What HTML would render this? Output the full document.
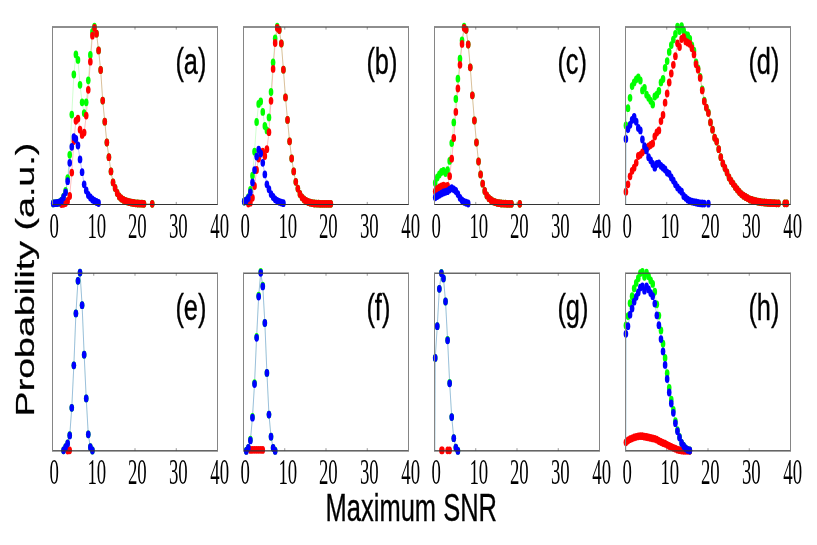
<!DOCTYPE html>
<html><head><meta charset="utf-8"><title>Maximum SNR probability</title>
<style>html,body{margin:0;padding:0;background:#fff;}svg{display:block;will-change:transform;}</style></head>
<body>
<svg width="817" height="545" viewBox="0 0 817 545">
<rect width="817" height="545" fill="#fff"/>
<rect x="93.25" y="27.00" width="1" height="2.6" fill="#9a9a9a"/>
<rect x="93.25" y="201.90" width="1" height="2.6" fill="#9a9a9a"/>
<rect x="134.50" y="27.00" width="1" height="2.6" fill="#9a9a9a"/>
<rect x="134.50" y="201.90" width="1" height="2.6" fill="#9a9a9a"/>
<rect x="175.75" y="27.00" width="1" height="2.6" fill="#9a9a9a"/>
<rect x="175.75" y="201.90" width="1" height="2.6" fill="#9a9a9a"/>
<path d="M53.22 203.40 L55.28 203.20 L57.35 203.00 L59.41 202.50 L61.47 200.60 L63.53 196.60 L65.60 190.90 L67.66 178.10 L69.72 154.80 L71.78 114.60 L73.85 74.50 L75.91 54.40 L77.97 59.90 L80.03 84.80 L82.10 102.30 L84.16 113.10 L86.22 102.30 L88.28 80.30 L90.35 55.00 L92.41 32.00 L94.47 26.70 L96.53 33.70 L98.60 50.40 L100.66 70.00 L102.72 100.60 L104.78 121.70 L106.85 142.50 L108.91 157.20 L110.97 171.40 L113.03 182.40 L115.10 188.00 L117.16 193.00 L119.22 196.50 L121.28 198.50 L123.35 199.80 L125.41 200.80 L127.47 201.60 L129.53 202.20 L131.60 202.70 L133.66 203.00 L135.72 203.30 L137.78 203.50 L139.85 203.60 L141.91 203.70 L143.97 203.80 L152.22 203.80" fill="none" stroke="#00ff00" stroke-width="0.5" stroke-opacity="0.38" stroke-linejoin="round"/>
<path d="M61.47 204.00 L63.53 203.80 L65.60 203.00 L67.66 201.00 L69.72 196.00 L71.78 172.60 L73.85 141.00 L75.91 120.80 L77.97 118.70 L80.03 129.70 L82.10 134.90 L84.16 132.60 L86.22 115.60 L88.28 89.80 L90.35 61.70 L92.41 35.70 L94.47 27.90 L96.53 33.70 L98.60 50.40 L100.66 70.00 L102.72 100.60 L104.78 121.70 L106.85 142.50 L108.91 157.20 L110.97 171.40 L113.03 182.40 L115.10 188.00 L117.16 193.00 L119.22 196.50 L121.28 198.50 L123.35 199.80 L125.41 200.80 L127.47 201.60 L129.53 202.20 L131.60 202.70 L133.66 203.00 L135.72 203.30 L137.78 203.50 L139.85 203.60 L141.91 203.70 L143.97 203.80 L152.22 203.80" fill="none" stroke="#ff0000" stroke-width="0.5" stroke-opacity="0.5" stroke-linejoin="round"/>
<path d="M53.22 203.40 L55.28 203.20 L57.35 203.00 L59.41 202.50 L61.47 201.00 L63.53 197.20 L65.60 192.30 L67.66 181.20 L69.72 162.80 L71.78 146.80 L73.85 137.10 L75.91 139.00 L77.97 145.50 L80.03 159.40 L82.10 172.20 L84.16 184.30 L86.22 190.40 L88.28 195.00 L90.35 197.50 L92.41 199.50 L94.47 201.00 L96.53 202.00 L98.60 203.00" fill="none" stroke="#0000ff" stroke-width="0.5" stroke-opacity="0.5" stroke-linejoin="round"/>
<g fill="#00ff00">
<ellipse cx="53.22" cy="203.40" rx="2.3" ry="3.9"/>
<ellipse cx="55.28" cy="203.20" rx="2.3" ry="3.9"/>
<ellipse cx="57.35" cy="203.00" rx="2.3" ry="3.9"/>
<ellipse cx="59.41" cy="202.50" rx="2.3" ry="3.9"/>
<ellipse cx="61.47" cy="200.60" rx="2.3" ry="3.9"/>
<ellipse cx="63.53" cy="196.60" rx="2.3" ry="3.9"/>
<ellipse cx="65.60" cy="190.90" rx="2.3" ry="3.9"/>
<ellipse cx="67.66" cy="178.10" rx="2.3" ry="3.9"/>
<ellipse cx="69.72" cy="154.80" rx="2.3" ry="3.9"/>
<ellipse cx="71.78" cy="114.60" rx="2.3" ry="3.9"/>
<ellipse cx="73.85" cy="74.50" rx="2.3" ry="3.9"/>
<ellipse cx="75.91" cy="54.40" rx="2.3" ry="3.9"/>
<ellipse cx="77.97" cy="59.90" rx="2.3" ry="3.9"/>
<ellipse cx="80.03" cy="84.80" rx="2.3" ry="3.9"/>
<ellipse cx="82.10" cy="102.30" rx="2.3" ry="3.9"/>
<ellipse cx="84.16" cy="113.10" rx="2.3" ry="3.9"/>
<ellipse cx="86.22" cy="102.30" rx="2.3" ry="3.9"/>
<ellipse cx="88.28" cy="80.30" rx="2.3" ry="3.9"/>
<ellipse cx="90.35" cy="55.00" rx="2.3" ry="3.9"/>
<ellipse cx="92.41" cy="32.00" rx="2.3" ry="3.9"/>
<ellipse cx="94.47" cy="26.70" rx="2.3" ry="3.9"/>
<ellipse cx="96.53" cy="33.70" rx="2.3" ry="3.9"/>
<ellipse cx="98.60" cy="50.40" rx="2.3" ry="3.9"/>
<ellipse cx="100.66" cy="70.00" rx="2.3" ry="3.9"/>
<ellipse cx="102.72" cy="100.60" rx="2.3" ry="3.9"/>
<ellipse cx="104.78" cy="121.70" rx="2.3" ry="3.9"/>
<ellipse cx="106.85" cy="142.50" rx="2.3" ry="3.9"/>
<ellipse cx="108.91" cy="157.20" rx="2.3" ry="3.9"/>
<ellipse cx="110.97" cy="171.40" rx="2.3" ry="3.9"/>
<ellipse cx="113.03" cy="182.40" rx="2.3" ry="3.9"/>
<ellipse cx="115.10" cy="188.00" rx="2.3" ry="3.9"/>
<ellipse cx="117.16" cy="193.00" rx="2.3" ry="3.9"/>
<ellipse cx="119.22" cy="196.50" rx="2.3" ry="3.9"/>
<ellipse cx="121.28" cy="198.50" rx="2.3" ry="3.9"/>
<ellipse cx="123.35" cy="199.80" rx="2.3" ry="3.9"/>
<ellipse cx="125.41" cy="200.80" rx="2.3" ry="3.9"/>
<ellipse cx="127.47" cy="201.60" rx="2.3" ry="3.9"/>
<ellipse cx="129.53" cy="202.20" rx="2.3" ry="3.9"/>
<ellipse cx="131.60" cy="202.70" rx="2.3" ry="3.9"/>
<ellipse cx="133.66" cy="203.00" rx="2.3" ry="3.9"/>
<ellipse cx="135.72" cy="203.30" rx="2.3" ry="3.9"/>
<ellipse cx="137.78" cy="203.50" rx="2.3" ry="3.9"/>
<ellipse cx="139.85" cy="203.60" rx="2.3" ry="3.9"/>
<ellipse cx="141.91" cy="203.70" rx="2.3" ry="3.9"/>
<ellipse cx="143.97" cy="203.80" rx="2.3" ry="3.9"/>
<ellipse cx="152.22" cy="203.80" rx="2.3" ry="3.9"/>
</g>
<g fill="#ff0000">
<ellipse cx="61.47" cy="204.00" rx="2.3" ry="3.9"/>
<ellipse cx="63.53" cy="203.80" rx="2.3" ry="3.9"/>
<ellipse cx="65.60" cy="203.00" rx="2.3" ry="3.9"/>
<ellipse cx="67.66" cy="201.00" rx="2.3" ry="3.9"/>
<ellipse cx="69.72" cy="196.00" rx="2.3" ry="3.9"/>
<ellipse cx="71.78" cy="172.60" rx="2.3" ry="3.9"/>
<ellipse cx="73.85" cy="141.00" rx="2.3" ry="3.9"/>
<ellipse cx="75.91" cy="120.80" rx="2.3" ry="3.9"/>
<ellipse cx="77.97" cy="118.70" rx="2.3" ry="3.9"/>
<ellipse cx="80.03" cy="129.70" rx="2.3" ry="3.9"/>
<ellipse cx="82.10" cy="134.90" rx="2.3" ry="3.9"/>
<ellipse cx="84.16" cy="132.60" rx="2.3" ry="3.9"/>
<ellipse cx="86.22" cy="115.60" rx="2.3" ry="3.9"/>
<ellipse cx="88.28" cy="89.80" rx="2.3" ry="3.9"/>
<ellipse cx="90.35" cy="61.70" rx="2.3" ry="3.9"/>
<ellipse cx="92.41" cy="35.70" rx="2.3" ry="3.9"/>
<ellipse cx="94.47" cy="27.90" rx="2.3" ry="3.9"/>
<ellipse cx="96.53" cy="33.70" rx="2.3" ry="3.9"/>
<ellipse cx="98.60" cy="50.40" rx="2.3" ry="3.9"/>
<ellipse cx="100.66" cy="70.00" rx="2.3" ry="3.9"/>
<ellipse cx="102.72" cy="100.60" rx="2.3" ry="3.9"/>
<ellipse cx="104.78" cy="121.70" rx="2.3" ry="3.9"/>
<ellipse cx="106.85" cy="142.50" rx="2.3" ry="3.9"/>
<ellipse cx="108.91" cy="157.20" rx="2.3" ry="3.9"/>
<ellipse cx="110.97" cy="171.40" rx="2.3" ry="3.9"/>
<ellipse cx="113.03" cy="182.40" rx="2.3" ry="3.9"/>
<ellipse cx="115.10" cy="188.00" rx="2.3" ry="3.9"/>
<ellipse cx="117.16" cy="193.00" rx="2.3" ry="3.9"/>
<ellipse cx="119.22" cy="196.50" rx="2.3" ry="3.9"/>
<ellipse cx="121.28" cy="198.50" rx="2.3" ry="3.9"/>
<ellipse cx="123.35" cy="199.80" rx="2.3" ry="3.9"/>
<ellipse cx="125.41" cy="200.80" rx="2.3" ry="3.9"/>
<ellipse cx="127.47" cy="201.60" rx="2.3" ry="3.9"/>
<ellipse cx="129.53" cy="202.20" rx="2.3" ry="3.9"/>
<ellipse cx="131.60" cy="202.70" rx="2.3" ry="3.9"/>
<ellipse cx="133.66" cy="203.00" rx="2.3" ry="3.9"/>
<ellipse cx="135.72" cy="203.30" rx="2.3" ry="3.9"/>
<ellipse cx="137.78" cy="203.50" rx="2.3" ry="3.9"/>
<ellipse cx="139.85" cy="203.60" rx="2.3" ry="3.9"/>
<ellipse cx="141.91" cy="203.70" rx="2.3" ry="3.9"/>
<ellipse cx="143.97" cy="203.80" rx="2.3" ry="3.9"/>
<ellipse cx="152.22" cy="203.80" rx="2.3" ry="3.9"/>
</g>
<g fill="#0000ff">
<ellipse cx="53.22" cy="203.40" rx="2.3" ry="3.9"/>
<ellipse cx="55.28" cy="203.20" rx="2.3" ry="3.9"/>
<ellipse cx="57.35" cy="203.00" rx="2.3" ry="3.9"/>
<ellipse cx="59.41" cy="202.50" rx="2.3" ry="3.9"/>
<ellipse cx="61.47" cy="201.00" rx="2.3" ry="3.9"/>
<ellipse cx="63.53" cy="197.20" rx="2.3" ry="3.9"/>
<ellipse cx="65.60" cy="192.30" rx="2.3" ry="3.9"/>
<ellipse cx="67.66" cy="181.20" rx="2.3" ry="3.9"/>
<ellipse cx="69.72" cy="162.80" rx="2.3" ry="3.9"/>
<ellipse cx="71.78" cy="146.80" rx="2.3" ry="3.9"/>
<ellipse cx="73.85" cy="137.10" rx="2.3" ry="3.9"/>
<ellipse cx="75.91" cy="139.00" rx="2.3" ry="3.9"/>
<ellipse cx="77.97" cy="145.50" rx="2.3" ry="3.9"/>
<ellipse cx="80.03" cy="159.40" rx="2.3" ry="3.9"/>
<ellipse cx="82.10" cy="172.20" rx="2.3" ry="3.9"/>
<ellipse cx="84.16" cy="184.30" rx="2.3" ry="3.9"/>
<ellipse cx="86.22" cy="190.40" rx="2.3" ry="3.9"/>
<ellipse cx="88.28" cy="195.00" rx="2.3" ry="3.9"/>
<ellipse cx="90.35" cy="197.50" rx="2.3" ry="3.9"/>
<ellipse cx="92.41" cy="199.50" rx="2.3" ry="3.9"/>
<ellipse cx="94.47" cy="201.00" rx="2.3" ry="3.9"/>
<ellipse cx="96.53" cy="202.00" rx="2.3" ry="3.9"/>
<ellipse cx="98.60" cy="203.00" rx="2.3" ry="3.9"/>
</g>
<rect x="52.00" y="26.40" width="166.00" height="1.2" fill="#444"/>
<rect x="52.00" y="204.00" width="166.00" height="1.0" fill="#333"/>
<rect x="52.00" y="27.00" width="1" height="177.50" fill="#858585"/>
<rect x="217.00" y="27.00" width="1" height="177.50" fill="#858585"/>
<text transform="translate(54.10 238.00) scale(1 1.88)" font-family="Liberation Serif, serif" font-size="18.8" text-anchor="middle" fill="#000">0</text>
<text transform="translate(96.80 238.00) scale(1 1.88)" font-family="Liberation Serif, serif" font-size="18.8" text-anchor="middle" fill="#000">10</text>
<text transform="translate(137.30 238.00) scale(1 1.88)" font-family="Liberation Serif, serif" font-size="18.8" text-anchor="middle" fill="#000">20</text>
<text transform="translate(178.30 238.00) scale(1 1.88)" font-family="Liberation Serif, serif" font-size="18.8" text-anchor="middle" fill="#000">30</text>
<text transform="translate(219.70 238.00) scale(1 1.88)" font-family="Liberation Serif, serif" font-size="18.8" text-anchor="middle" fill="#000">40</text>
<text transform="translate(175.40 73.60) scale(0.6737 1)" font-family="Liberation Sans, sans-serif" font-size="37.7" fill="#000" stroke="#000" stroke-width="0.3" vector-effect="non-scaling-stroke">(a)</text>
<rect x="284.25" y="27.00" width="1" height="2.6" fill="#9a9a9a"/>
<rect x="284.25" y="201.90" width="1" height="2.6" fill="#9a9a9a"/>
<rect x="325.50" y="27.00" width="1" height="2.6" fill="#9a9a9a"/>
<rect x="325.50" y="201.90" width="1" height="2.6" fill="#9a9a9a"/>
<rect x="366.75" y="27.00" width="1" height="2.6" fill="#9a9a9a"/>
<rect x="366.75" y="201.90" width="1" height="2.6" fill="#9a9a9a"/>
<path d="M244.22 201.50 L246.28 200.50 L248.35 197.20 L250.41 189.80 L252.47 175.70 L254.53 151.70 L256.60 122.00 L258.66 103.90 L260.72 101.40 L262.78 111.90 L264.85 126.00 L266.91 130.40 L268.97 117.40 L271.03 92.00 L273.10 62.40 L275.16 38.50 L277.22 26.70 L279.28 30.00 L281.35 43.50 L283.41 69.70 L285.47 97.40 L287.53 119.90 L289.60 141.30 L291.66 158.50 L293.72 171.40 L295.78 181.80 L297.85 188.60 L299.91 194.00 L301.97 197.30 L304.03 199.50 L306.10 201.00 L308.16 202.00 L310.22 202.70 L312.28 203.20 L314.35 203.50 L316.41 203.60 L318.47 203.70 L320.53 203.80 L322.60 203.80 L324.66 203.80 L326.72 203.80 L328.78 203.80 L330.85 203.80" fill="none" stroke="#00ff00" stroke-width="0.5" stroke-opacity="0.38" stroke-linejoin="round"/>
<path d="M248.35 203.60 L250.41 202.70 L252.47 197.80 L254.53 186.00 L256.60 170.00 L258.66 158.50 L260.72 152.50 L262.78 151.70 L264.85 156.00 L266.91 149.20 L268.97 132.20 L271.03 100.80 L273.10 68.90 L275.16 43.00 L277.22 27.90 L279.28 30.00 L281.35 43.50 L283.41 69.70 L285.47 97.40 L287.53 119.90 L289.60 141.30 L291.66 158.50 L293.72 171.40 L295.78 181.80 L297.85 188.60 L299.91 194.00 L301.97 197.30 L304.03 199.50 L306.10 201.00 L308.16 202.00 L310.22 202.70 L312.28 203.20 L314.35 203.50 L316.41 203.60 L318.47 203.70 L320.53 203.80 L322.60 203.80 L324.66 203.80 L326.72 203.80 L328.78 203.80 L330.85 203.80" fill="none" stroke="#ff0000" stroke-width="0.5" stroke-opacity="0.5" stroke-linejoin="round"/>
<path d="M244.22 201.50 L246.28 200.50 L248.35 198.00 L250.41 192.30 L252.47 182.40 L254.53 170.10 L256.60 156.60 L258.66 149.60 L260.72 153.50 L262.78 162.80 L264.85 174.40 L266.91 184.30 L268.97 189.20 L271.03 194.10 L273.10 197.00 L275.16 199.30 L277.22 200.80 L279.28 201.80 L281.35 202.60 L283.41 203.20" fill="none" stroke="#0000ff" stroke-width="0.5" stroke-opacity="0.5" stroke-linejoin="round"/>
<g fill="#00ff00">
<ellipse cx="244.22" cy="201.50" rx="2.3" ry="3.9"/>
<ellipse cx="246.28" cy="200.50" rx="2.3" ry="3.9"/>
<ellipse cx="248.35" cy="197.20" rx="2.3" ry="3.9"/>
<ellipse cx="250.41" cy="189.80" rx="2.3" ry="3.9"/>
<ellipse cx="252.47" cy="175.70" rx="2.3" ry="3.9"/>
<ellipse cx="254.53" cy="151.70" rx="2.3" ry="3.9"/>
<ellipse cx="256.60" cy="122.00" rx="2.3" ry="3.9"/>
<ellipse cx="258.66" cy="103.90" rx="2.3" ry="3.9"/>
<ellipse cx="260.72" cy="101.40" rx="2.3" ry="3.9"/>
<ellipse cx="262.78" cy="111.90" rx="2.3" ry="3.9"/>
<ellipse cx="264.85" cy="126.00" rx="2.3" ry="3.9"/>
<ellipse cx="266.91" cy="130.40" rx="2.3" ry="3.9"/>
<ellipse cx="268.97" cy="117.40" rx="2.3" ry="3.9"/>
<ellipse cx="271.03" cy="92.00" rx="2.3" ry="3.9"/>
<ellipse cx="273.10" cy="62.40" rx="2.3" ry="3.9"/>
<ellipse cx="275.16" cy="38.50" rx="2.3" ry="3.9"/>
<ellipse cx="277.22" cy="26.70" rx="2.3" ry="3.9"/>
<ellipse cx="279.28" cy="30.00" rx="2.3" ry="3.9"/>
<ellipse cx="281.35" cy="43.50" rx="2.3" ry="3.9"/>
<ellipse cx="283.41" cy="69.70" rx="2.3" ry="3.9"/>
<ellipse cx="285.47" cy="97.40" rx="2.3" ry="3.9"/>
<ellipse cx="287.53" cy="119.90" rx="2.3" ry="3.9"/>
<ellipse cx="289.60" cy="141.30" rx="2.3" ry="3.9"/>
<ellipse cx="291.66" cy="158.50" rx="2.3" ry="3.9"/>
<ellipse cx="293.72" cy="171.40" rx="2.3" ry="3.9"/>
<ellipse cx="295.78" cy="181.80" rx="2.3" ry="3.9"/>
<ellipse cx="297.85" cy="188.60" rx="2.3" ry="3.9"/>
<ellipse cx="299.91" cy="194.00" rx="2.3" ry="3.9"/>
<ellipse cx="301.97" cy="197.30" rx="2.3" ry="3.9"/>
<ellipse cx="304.03" cy="199.50" rx="2.3" ry="3.9"/>
<ellipse cx="306.10" cy="201.00" rx="2.3" ry="3.9"/>
<ellipse cx="308.16" cy="202.00" rx="2.3" ry="3.9"/>
<ellipse cx="310.22" cy="202.70" rx="2.3" ry="3.9"/>
<ellipse cx="312.28" cy="203.20" rx="2.3" ry="3.9"/>
<ellipse cx="314.35" cy="203.50" rx="2.3" ry="3.9"/>
<ellipse cx="316.41" cy="203.60" rx="2.3" ry="3.9"/>
<ellipse cx="318.47" cy="203.70" rx="2.3" ry="3.9"/>
<ellipse cx="320.53" cy="203.80" rx="2.3" ry="3.9"/>
<ellipse cx="322.60" cy="203.80" rx="2.3" ry="3.9"/>
<ellipse cx="324.66" cy="203.80" rx="2.3" ry="3.9"/>
<ellipse cx="326.72" cy="203.80" rx="2.3" ry="3.9"/>
<ellipse cx="328.78" cy="203.80" rx="2.3" ry="3.9"/>
<ellipse cx="330.85" cy="203.80" rx="2.3" ry="3.9"/>
</g>
<g fill="#ff0000">
<ellipse cx="248.35" cy="203.60" rx="2.3" ry="3.9"/>
<ellipse cx="250.41" cy="202.70" rx="2.3" ry="3.9"/>
<ellipse cx="252.47" cy="197.80" rx="2.3" ry="3.9"/>
<ellipse cx="254.53" cy="186.00" rx="2.3" ry="3.9"/>
<ellipse cx="256.60" cy="170.00" rx="2.3" ry="3.9"/>
<ellipse cx="258.66" cy="158.50" rx="2.3" ry="3.9"/>
<ellipse cx="260.72" cy="152.50" rx="2.3" ry="3.9"/>
<ellipse cx="262.78" cy="151.70" rx="2.3" ry="3.9"/>
<ellipse cx="264.85" cy="156.00" rx="2.3" ry="3.9"/>
<ellipse cx="266.91" cy="149.20" rx="2.3" ry="3.9"/>
<ellipse cx="268.97" cy="132.20" rx="2.3" ry="3.9"/>
<ellipse cx="271.03" cy="100.80" rx="2.3" ry="3.9"/>
<ellipse cx="273.10" cy="68.90" rx="2.3" ry="3.9"/>
<ellipse cx="275.16" cy="43.00" rx="2.3" ry="3.9"/>
<ellipse cx="277.22" cy="27.90" rx="2.3" ry="3.9"/>
<ellipse cx="279.28" cy="30.00" rx="2.3" ry="3.9"/>
<ellipse cx="281.35" cy="43.50" rx="2.3" ry="3.9"/>
<ellipse cx="283.41" cy="69.70" rx="2.3" ry="3.9"/>
<ellipse cx="285.47" cy="97.40" rx="2.3" ry="3.9"/>
<ellipse cx="287.53" cy="119.90" rx="2.3" ry="3.9"/>
<ellipse cx="289.60" cy="141.30" rx="2.3" ry="3.9"/>
<ellipse cx="291.66" cy="158.50" rx="2.3" ry="3.9"/>
<ellipse cx="293.72" cy="171.40" rx="2.3" ry="3.9"/>
<ellipse cx="295.78" cy="181.80" rx="2.3" ry="3.9"/>
<ellipse cx="297.85" cy="188.60" rx="2.3" ry="3.9"/>
<ellipse cx="299.91" cy="194.00" rx="2.3" ry="3.9"/>
<ellipse cx="301.97" cy="197.30" rx="2.3" ry="3.9"/>
<ellipse cx="304.03" cy="199.50" rx="2.3" ry="3.9"/>
<ellipse cx="306.10" cy="201.00" rx="2.3" ry="3.9"/>
<ellipse cx="308.16" cy="202.00" rx="2.3" ry="3.9"/>
<ellipse cx="310.22" cy="202.70" rx="2.3" ry="3.9"/>
<ellipse cx="312.28" cy="203.20" rx="2.3" ry="3.9"/>
<ellipse cx="314.35" cy="203.50" rx="2.3" ry="3.9"/>
<ellipse cx="316.41" cy="203.60" rx="2.3" ry="3.9"/>
<ellipse cx="318.47" cy="203.70" rx="2.3" ry="3.9"/>
<ellipse cx="320.53" cy="203.80" rx="2.3" ry="3.9"/>
<ellipse cx="322.60" cy="203.80" rx="2.3" ry="3.9"/>
<ellipse cx="324.66" cy="203.80" rx="2.3" ry="3.9"/>
<ellipse cx="326.72" cy="203.80" rx="2.3" ry="3.9"/>
<ellipse cx="328.78" cy="203.80" rx="2.3" ry="3.9"/>
<ellipse cx="330.85" cy="203.80" rx="2.3" ry="3.9"/>
</g>
<g fill="#0000ff">
<ellipse cx="244.22" cy="201.50" rx="2.3" ry="3.9"/>
<ellipse cx="246.28" cy="200.50" rx="2.3" ry="3.9"/>
<ellipse cx="248.35" cy="198.00" rx="2.3" ry="3.9"/>
<ellipse cx="250.41" cy="192.30" rx="2.3" ry="3.9"/>
<ellipse cx="252.47" cy="182.40" rx="2.3" ry="3.9"/>
<ellipse cx="254.53" cy="170.10" rx="2.3" ry="3.9"/>
<ellipse cx="256.60" cy="156.60" rx="2.3" ry="3.9"/>
<ellipse cx="258.66" cy="149.60" rx="2.3" ry="3.9"/>
<ellipse cx="260.72" cy="153.50" rx="2.3" ry="3.9"/>
<ellipse cx="262.78" cy="162.80" rx="2.3" ry="3.9"/>
<ellipse cx="264.85" cy="174.40" rx="2.3" ry="3.9"/>
<ellipse cx="266.91" cy="184.30" rx="2.3" ry="3.9"/>
<ellipse cx="268.97" cy="189.20" rx="2.3" ry="3.9"/>
<ellipse cx="271.03" cy="194.10" rx="2.3" ry="3.9"/>
<ellipse cx="273.10" cy="197.00" rx="2.3" ry="3.9"/>
<ellipse cx="275.16" cy="199.30" rx="2.3" ry="3.9"/>
<ellipse cx="277.22" cy="200.80" rx="2.3" ry="3.9"/>
<ellipse cx="279.28" cy="201.80" rx="2.3" ry="3.9"/>
<ellipse cx="281.35" cy="202.60" rx="2.3" ry="3.9"/>
<ellipse cx="283.41" cy="203.20" rx="2.3" ry="3.9"/>
</g>
<rect x="243.00" y="26.40" width="166.00" height="1.2" fill="#444"/>
<rect x="243.00" y="204.00" width="166.00" height="1.0" fill="#333"/>
<rect x="243.00" y="27.00" width="1" height="177.50" fill="#858585"/>
<rect x="408.00" y="27.00" width="1" height="177.50" fill="#858585"/>
<text transform="translate(245.10 238.00) scale(1 1.88)" font-family="Liberation Serif, serif" font-size="18.8" text-anchor="middle" fill="#000">0</text>
<text transform="translate(287.80 238.00) scale(1 1.88)" font-family="Liberation Serif, serif" font-size="18.8" text-anchor="middle" fill="#000">10</text>
<text transform="translate(328.30 238.00) scale(1 1.88)" font-family="Liberation Serif, serif" font-size="18.8" text-anchor="middle" fill="#000">20</text>
<text transform="translate(369.30 238.00) scale(1 1.88)" font-family="Liberation Serif, serif" font-size="18.8" text-anchor="middle" fill="#000">30</text>
<text transform="translate(410.70 238.00) scale(1 1.88)" font-family="Liberation Serif, serif" font-size="18.8" text-anchor="middle" fill="#000">40</text>
<text transform="translate(366.40 73.60) scale(0.6737 1)" font-family="Liberation Sans, sans-serif" font-size="37.7" fill="#000" stroke="#000" stroke-width="0.3" vector-effect="non-scaling-stroke">(b)</text>
<rect x="475.25" y="27.00" width="1" height="2.6" fill="#9a9a9a"/>
<rect x="475.25" y="201.90" width="1" height="2.6" fill="#9a9a9a"/>
<rect x="516.50" y="27.00" width="1" height="2.6" fill="#9a9a9a"/>
<rect x="516.50" y="201.90" width="1" height="2.6" fill="#9a9a9a"/>
<rect x="557.75" y="27.00" width="1" height="2.6" fill="#9a9a9a"/>
<rect x="557.75" y="201.90" width="1" height="2.6" fill="#9a9a9a"/>
<path d="M435.22 183.00 L437.28 177.50 L439.35 174.50 L441.41 172.00 L443.47 170.80 L445.53 173.00 L447.60 170.10 L449.66 160.90 L451.72 143.10 L453.78 122.40 L455.85 99.00 L457.91 78.70 L459.97 58.70 L462.03 40.40 L464.10 26.70 L466.16 29.80 L468.22 44.50 L470.28 67.30 L472.35 95.30 L474.41 120.50 L476.47 142.50 L478.53 161.50 L480.60 174.40 L482.66 183.70 L484.72 191.00 L486.78 195.40 L488.85 198.20 L490.91 200.00 L492.97 201.30 L495.03 202.20 L497.10 202.80 L499.16 203.20 L501.22 203.50 L503.28 203.60 L505.35 203.70 L507.41 203.80 L509.47 203.80 L511.53 203.80 L519.78 203.80" fill="none" stroke="#00ff00" stroke-width="0.5" stroke-opacity="0.38" stroke-linejoin="round"/>
<path d="M435.22 191.30 L437.28 189.00 L439.35 187.50 L441.41 186.50 L443.47 185.70 L445.53 186.50 L447.60 185.80 L449.66 176.20 L451.72 158.70 L453.78 138.00 L455.85 111.90 L457.91 88.50 L459.97 64.80 L462.03 43.90 L464.10 27.90 L466.16 29.80 L468.22 44.50 L470.28 67.30 L472.35 95.30 L474.41 120.50 L476.47 142.50 L478.53 161.50 L480.60 174.40 L482.66 183.70 L484.72 191.00 L486.78 195.40 L488.85 198.20 L490.91 200.00 L492.97 201.30 L495.03 202.20 L497.10 202.80 L499.16 203.20 L501.22 203.50 L503.28 203.60 L505.35 203.70 L507.41 203.80 L509.47 203.80 L511.53 203.80 L519.78 203.80" fill="none" stroke="#ff0000" stroke-width="0.5" stroke-opacity="0.5" stroke-linejoin="round"/>
<path d="M435.22 197.30 L437.28 196.10 L439.35 194.80 L441.41 193.60 L443.47 192.50 L445.53 191.80 L447.60 191.20 L449.66 189.60 L451.72 188.20 L453.78 189.30 L455.85 191.00 L457.91 194.10 L459.97 197.80 L462.03 200.30 L464.10 201.80 L466.16 202.70 L468.22 203.50" fill="none" stroke="#0000ff" stroke-width="0.5" stroke-opacity="0.5" stroke-linejoin="round"/>
<g fill="#00ff00">
<ellipse cx="435.22" cy="183.00" rx="2.3" ry="3.9"/>
<ellipse cx="437.28" cy="177.50" rx="2.3" ry="3.9"/>
<ellipse cx="439.35" cy="174.50" rx="2.3" ry="3.9"/>
<ellipse cx="441.41" cy="172.00" rx="2.3" ry="3.9"/>
<ellipse cx="443.47" cy="170.80" rx="2.3" ry="3.9"/>
<ellipse cx="445.53" cy="173.00" rx="2.3" ry="3.9"/>
<ellipse cx="447.60" cy="170.10" rx="2.3" ry="3.9"/>
<ellipse cx="449.66" cy="160.90" rx="2.3" ry="3.9"/>
<ellipse cx="451.72" cy="143.10" rx="2.3" ry="3.9"/>
<ellipse cx="453.78" cy="122.40" rx="2.3" ry="3.9"/>
<ellipse cx="455.85" cy="99.00" rx="2.3" ry="3.9"/>
<ellipse cx="457.91" cy="78.70" rx="2.3" ry="3.9"/>
<ellipse cx="459.97" cy="58.70" rx="2.3" ry="3.9"/>
<ellipse cx="462.03" cy="40.40" rx="2.3" ry="3.9"/>
<ellipse cx="464.10" cy="26.70" rx="2.3" ry="3.9"/>
<ellipse cx="466.16" cy="29.80" rx="2.3" ry="3.9"/>
<ellipse cx="468.22" cy="44.50" rx="2.3" ry="3.9"/>
<ellipse cx="470.28" cy="67.30" rx="2.3" ry="3.9"/>
<ellipse cx="472.35" cy="95.30" rx="2.3" ry="3.9"/>
<ellipse cx="474.41" cy="120.50" rx="2.3" ry="3.9"/>
<ellipse cx="476.47" cy="142.50" rx="2.3" ry="3.9"/>
<ellipse cx="478.53" cy="161.50" rx="2.3" ry="3.9"/>
<ellipse cx="480.60" cy="174.40" rx="2.3" ry="3.9"/>
<ellipse cx="482.66" cy="183.70" rx="2.3" ry="3.9"/>
<ellipse cx="484.72" cy="191.00" rx="2.3" ry="3.9"/>
<ellipse cx="486.78" cy="195.40" rx="2.3" ry="3.9"/>
<ellipse cx="488.85" cy="198.20" rx="2.3" ry="3.9"/>
<ellipse cx="490.91" cy="200.00" rx="2.3" ry="3.9"/>
<ellipse cx="492.97" cy="201.30" rx="2.3" ry="3.9"/>
<ellipse cx="495.03" cy="202.20" rx="2.3" ry="3.9"/>
<ellipse cx="497.10" cy="202.80" rx="2.3" ry="3.9"/>
<ellipse cx="499.16" cy="203.20" rx="2.3" ry="3.9"/>
<ellipse cx="501.22" cy="203.50" rx="2.3" ry="3.9"/>
<ellipse cx="503.28" cy="203.60" rx="2.3" ry="3.9"/>
<ellipse cx="505.35" cy="203.70" rx="2.3" ry="3.9"/>
<ellipse cx="507.41" cy="203.80" rx="2.3" ry="3.9"/>
<ellipse cx="509.47" cy="203.80" rx="2.3" ry="3.9"/>
<ellipse cx="511.53" cy="203.80" rx="2.3" ry="3.9"/>
<ellipse cx="519.78" cy="203.80" rx="2.3" ry="3.9"/>
</g>
<g fill="#ff0000">
<ellipse cx="435.22" cy="191.30" rx="2.3" ry="3.9"/>
<ellipse cx="437.28" cy="189.00" rx="2.3" ry="3.9"/>
<ellipse cx="439.35" cy="187.50" rx="2.3" ry="3.9"/>
<ellipse cx="441.41" cy="186.50" rx="2.3" ry="3.9"/>
<ellipse cx="443.47" cy="185.70" rx="2.3" ry="3.9"/>
<ellipse cx="445.53" cy="186.50" rx="2.3" ry="3.9"/>
<ellipse cx="447.60" cy="185.80" rx="2.3" ry="3.9"/>
<ellipse cx="449.66" cy="176.20" rx="2.3" ry="3.9"/>
<ellipse cx="451.72" cy="158.70" rx="2.3" ry="3.9"/>
<ellipse cx="453.78" cy="138.00" rx="2.3" ry="3.9"/>
<ellipse cx="455.85" cy="111.90" rx="2.3" ry="3.9"/>
<ellipse cx="457.91" cy="88.50" rx="2.3" ry="3.9"/>
<ellipse cx="459.97" cy="64.80" rx="2.3" ry="3.9"/>
<ellipse cx="462.03" cy="43.90" rx="2.3" ry="3.9"/>
<ellipse cx="464.10" cy="27.90" rx="2.3" ry="3.9"/>
<ellipse cx="466.16" cy="29.80" rx="2.3" ry="3.9"/>
<ellipse cx="468.22" cy="44.50" rx="2.3" ry="3.9"/>
<ellipse cx="470.28" cy="67.30" rx="2.3" ry="3.9"/>
<ellipse cx="472.35" cy="95.30" rx="2.3" ry="3.9"/>
<ellipse cx="474.41" cy="120.50" rx="2.3" ry="3.9"/>
<ellipse cx="476.47" cy="142.50" rx="2.3" ry="3.9"/>
<ellipse cx="478.53" cy="161.50" rx="2.3" ry="3.9"/>
<ellipse cx="480.60" cy="174.40" rx="2.3" ry="3.9"/>
<ellipse cx="482.66" cy="183.70" rx="2.3" ry="3.9"/>
<ellipse cx="484.72" cy="191.00" rx="2.3" ry="3.9"/>
<ellipse cx="486.78" cy="195.40" rx="2.3" ry="3.9"/>
<ellipse cx="488.85" cy="198.20" rx="2.3" ry="3.9"/>
<ellipse cx="490.91" cy="200.00" rx="2.3" ry="3.9"/>
<ellipse cx="492.97" cy="201.30" rx="2.3" ry="3.9"/>
<ellipse cx="495.03" cy="202.20" rx="2.3" ry="3.9"/>
<ellipse cx="497.10" cy="202.80" rx="2.3" ry="3.9"/>
<ellipse cx="499.16" cy="203.20" rx="2.3" ry="3.9"/>
<ellipse cx="501.22" cy="203.50" rx="2.3" ry="3.9"/>
<ellipse cx="503.28" cy="203.60" rx="2.3" ry="3.9"/>
<ellipse cx="505.35" cy="203.70" rx="2.3" ry="3.9"/>
<ellipse cx="507.41" cy="203.80" rx="2.3" ry="3.9"/>
<ellipse cx="509.47" cy="203.80" rx="2.3" ry="3.9"/>
<ellipse cx="511.53" cy="203.80" rx="2.3" ry="3.9"/>
<ellipse cx="519.78" cy="203.80" rx="2.3" ry="3.9"/>
</g>
<g fill="#0000ff">
<ellipse cx="435.22" cy="197.30" rx="2.3" ry="3.9"/>
<ellipse cx="437.28" cy="196.10" rx="2.3" ry="3.9"/>
<ellipse cx="439.35" cy="194.80" rx="2.3" ry="3.9"/>
<ellipse cx="441.41" cy="193.60" rx="2.3" ry="3.9"/>
<ellipse cx="443.47" cy="192.50" rx="2.3" ry="3.9"/>
<ellipse cx="445.53" cy="191.80" rx="2.3" ry="3.9"/>
<ellipse cx="447.60" cy="191.20" rx="2.3" ry="3.9"/>
<ellipse cx="449.66" cy="189.60" rx="2.3" ry="3.9"/>
<ellipse cx="451.72" cy="188.20" rx="2.3" ry="3.9"/>
<ellipse cx="453.78" cy="189.30" rx="2.3" ry="3.9"/>
<ellipse cx="455.85" cy="191.00" rx="2.3" ry="3.9"/>
<ellipse cx="457.91" cy="194.10" rx="2.3" ry="3.9"/>
<ellipse cx="459.97" cy="197.80" rx="2.3" ry="3.9"/>
<ellipse cx="462.03" cy="200.30" rx="2.3" ry="3.9"/>
<ellipse cx="464.10" cy="201.80" rx="2.3" ry="3.9"/>
<ellipse cx="466.16" cy="202.70" rx="2.3" ry="3.9"/>
<ellipse cx="468.22" cy="203.50" rx="2.3" ry="3.9"/>
</g>
<rect x="434.00" y="26.40" width="166.00" height="1.2" fill="#444"/>
<rect x="434.00" y="204.00" width="166.00" height="1.0" fill="#333"/>
<rect x="434.00" y="27.00" width="1" height="177.50" fill="#858585"/>
<rect x="599.00" y="27.00" width="1" height="177.50" fill="#858585"/>
<text transform="translate(436.10 238.00) scale(1 1.88)" font-family="Liberation Serif, serif" font-size="18.8" text-anchor="middle" fill="#000">0</text>
<text transform="translate(478.80 238.00) scale(1 1.88)" font-family="Liberation Serif, serif" font-size="18.8" text-anchor="middle" fill="#000">10</text>
<text transform="translate(519.30 238.00) scale(1 1.88)" font-family="Liberation Serif, serif" font-size="18.8" text-anchor="middle" fill="#000">20</text>
<text transform="translate(560.30 238.00) scale(1 1.88)" font-family="Liberation Serif, serif" font-size="18.8" text-anchor="middle" fill="#000">30</text>
<text transform="translate(601.70 238.00) scale(1 1.88)" font-family="Liberation Serif, serif" font-size="18.8" text-anchor="middle" fill="#000">40</text>
<text transform="translate(557.40 73.60) scale(0.6737 1)" font-family="Liberation Sans, sans-serif" font-size="37.7" fill="#000" stroke="#000" stroke-width="0.3" vector-effect="non-scaling-stroke">(c)</text>
<rect x="666.25" y="27.00" width="1" height="2.6" fill="#9a9a9a"/>
<rect x="666.25" y="201.90" width="1" height="2.6" fill="#9a9a9a"/>
<rect x="707.50" y="27.00" width="1" height="2.6" fill="#9a9a9a"/>
<rect x="707.50" y="201.90" width="1" height="2.6" fill="#9a9a9a"/>
<rect x="748.75" y="27.00" width="1" height="2.6" fill="#9a9a9a"/>
<rect x="748.75" y="201.90" width="1" height="2.6" fill="#9a9a9a"/>
<path d="M625.80 204.40 L625.91 125.40 L627.98 108.20 L630.04 97.80 L632.10 86.10 L634.16 82.40 L636.23 79.30 L638.29 77.50 L640.35 80.50 L642.41 90.40 L644.48 87.90 L646.54 94.70 L648.60 97.80 L650.66 100.80 L652.73 104.50 L654.79 96.50 L656.85 94.70 L658.91 91.00 L660.98 82.40 L663.04 79.00 L665.10 67.90 L667.16 61.10 L669.23 51.90 L671.29 45.10 L673.35 39.60 L675.41 34.00 L677.48 26.70 L679.54 31.00 L681.60 26.10 L683.66 30.40 L685.73 34.80 L687.79 35.30 L689.85 39.00 L691.91 45.40 L693.98 50.70 L696.04 62.30 L698.10 68.30 L700.16 76.80 L702.23 89.50 L704.29 100.60 L706.35 107.60 L708.41 112.40 L710.48 122.40 L712.54 129.70 L714.60 137.70 L716.66 141.50 L718.73 149.20 L720.79 157.20 L722.85 163.40 L724.91 168.00 L726.98 172.50 L729.04 177.50 L731.10 181.00 L733.16 183.80 L735.23 187.00 L737.29 189.50 L739.35 192.00 L741.41 194.10 L743.48 195.70 L745.54 197.00 L747.60 198.10 L749.66 199.30 L751.73 200.00 L753.79 200.60 L755.85 201.10 L757.91 201.70 L759.98 202.00 L762.04 202.30 L764.10 202.50 L766.16 202.70 L768.23 202.90 L770.29 203.00 L772.35 203.10 L774.41 203.20 L776.48 203.30 L778.54 203.30 L784.73 203.30 L786.79 203.30" fill="none" stroke="#00ff00" stroke-width="0.5" stroke-opacity="0.38" stroke-linejoin="round"/>
<path d="M625.91 191.70 L627.98 184.30 L630.04 176.30 L632.10 170.80 L634.16 167.70 L636.23 162.80 L638.29 156.00 L640.35 154.80 L642.41 152.30 L644.48 150.00 L646.54 148.00 L648.60 146.50 L650.66 145.00 L652.73 143.50 L654.79 136.50 L656.85 132.50 L658.91 130.40 L660.98 121.10 L663.04 115.00 L665.10 102.70 L667.16 93.50 L669.23 82.50 L671.29 73.50 L673.35 64.80 L675.41 56.20 L677.48 43.30 L679.54 47.00 L681.60 39.00 L683.66 37.10 L685.73 41.40 L687.79 42.70 L689.85 43.90 L691.91 48.20 L693.98 54.40 L696.04 64.20 L698.10 69.70 L700.16 77.90 L702.23 90.40 L704.29 101.40 L706.35 107.60 L708.41 113.10 L710.48 122.40 L712.54 129.70 L714.60 137.70 L716.66 141.50 L718.73 149.20 L720.79 157.20 L722.85 163.40 L724.91 168.00 L726.98 172.50 L729.04 177.50 L731.10 181.00 L733.16 183.80 L735.23 187.00 L737.29 189.50 L739.35 192.00 L741.41 194.10 L743.48 195.70 L745.54 197.00 L747.60 198.10 L749.66 199.30 L751.73 200.00 L753.79 200.60 L755.85 201.10 L757.91 201.70 L759.98 202.00 L762.04 202.30 L764.10 202.50 L766.16 202.70 L768.23 202.90 L770.29 203.00 L772.35 203.10 L774.41 203.20 L776.48 203.30 L778.54 203.30 L784.73 203.30 L786.79 203.30" fill="none" stroke="#ff0000" stroke-width="0.5" stroke-opacity="0.5" stroke-linejoin="round"/>
<path d="M625.80 204.40 L625.91 139.00 L627.98 129.10 L630.04 124.80 L632.10 119.90 L634.16 116.80 L636.23 121.70 L638.29 127.90 L640.35 130.40 L642.41 139.50 L644.48 146.20 L646.54 150.50 L648.60 157.20 L650.66 160.30 L652.73 164.00 L654.79 167.70 L656.85 164.00 L658.91 163.40 L660.98 165.80 L663.04 167.70 L665.10 169.50 L667.16 172.60 L669.23 173.80 L671.29 177.50 L673.35 180.60 L675.41 184.30 L677.48 187.40 L679.54 189.80 L681.60 191.70 L683.66 196.00 L685.73 197.80 L687.79 199.70 L689.85 200.90 L691.91 201.60 L693.98 202.10 L696.04 202.50 L698.10 203.00 L700.16 203.30 L702.23 203.50 L704.29 203.60 L708.41 203.70" fill="none" stroke="#0000ff" stroke-width="0.5" stroke-opacity="0.5" stroke-linejoin="round"/>
<g fill="#00ff00">
<ellipse cx="625.91" cy="125.40" rx="2.3" ry="3.9"/>
<ellipse cx="627.98" cy="108.20" rx="2.3" ry="3.9"/>
<ellipse cx="630.04" cy="97.80" rx="2.3" ry="3.9"/>
<ellipse cx="632.10" cy="86.10" rx="2.3" ry="3.9"/>
<ellipse cx="634.16" cy="82.40" rx="2.3" ry="3.9"/>
<ellipse cx="636.23" cy="79.30" rx="2.3" ry="3.9"/>
<ellipse cx="638.29" cy="77.50" rx="2.3" ry="3.9"/>
<ellipse cx="640.35" cy="80.50" rx="2.3" ry="3.9"/>
<ellipse cx="642.41" cy="90.40" rx="2.3" ry="3.9"/>
<ellipse cx="644.48" cy="87.90" rx="2.3" ry="3.9"/>
<ellipse cx="646.54" cy="94.70" rx="2.3" ry="3.9"/>
<ellipse cx="648.60" cy="97.80" rx="2.3" ry="3.9"/>
<ellipse cx="650.66" cy="100.80" rx="2.3" ry="3.9"/>
<ellipse cx="652.73" cy="104.50" rx="2.3" ry="3.9"/>
<ellipse cx="654.79" cy="96.50" rx="2.3" ry="3.9"/>
<ellipse cx="656.85" cy="94.70" rx="2.3" ry="3.9"/>
<ellipse cx="658.91" cy="91.00" rx="2.3" ry="3.9"/>
<ellipse cx="660.98" cy="82.40" rx="2.3" ry="3.9"/>
<ellipse cx="663.04" cy="79.00" rx="2.3" ry="3.9"/>
<ellipse cx="665.10" cy="67.90" rx="2.3" ry="3.9"/>
<ellipse cx="667.16" cy="61.10" rx="2.3" ry="3.9"/>
<ellipse cx="669.23" cy="51.90" rx="2.3" ry="3.9"/>
<ellipse cx="671.29" cy="45.10" rx="2.3" ry="3.9"/>
<ellipse cx="673.35" cy="39.60" rx="2.3" ry="3.9"/>
<ellipse cx="675.41" cy="34.00" rx="2.3" ry="3.9"/>
<ellipse cx="677.48" cy="26.70" rx="2.3" ry="3.9"/>
<ellipse cx="679.54" cy="31.00" rx="2.3" ry="3.9"/>
<ellipse cx="681.60" cy="26.10" rx="2.3" ry="3.9"/>
<ellipse cx="683.66" cy="30.40" rx="2.3" ry="3.9"/>
<ellipse cx="685.73" cy="34.80" rx="2.3" ry="3.9"/>
<ellipse cx="687.79" cy="35.30" rx="2.3" ry="3.9"/>
<ellipse cx="689.85" cy="39.00" rx="2.3" ry="3.9"/>
<ellipse cx="691.91" cy="45.40" rx="2.3" ry="3.9"/>
<ellipse cx="693.98" cy="50.70" rx="2.3" ry="3.9"/>
<ellipse cx="696.04" cy="62.30" rx="2.3" ry="3.9"/>
<ellipse cx="698.10" cy="68.30" rx="2.3" ry="3.9"/>
<ellipse cx="700.16" cy="76.80" rx="2.3" ry="3.9"/>
<ellipse cx="702.23" cy="89.50" rx="2.3" ry="3.9"/>
<ellipse cx="704.29" cy="100.60" rx="2.3" ry="3.9"/>
<ellipse cx="706.35" cy="107.60" rx="2.3" ry="3.9"/>
<ellipse cx="708.41" cy="112.40" rx="2.3" ry="3.9"/>
<ellipse cx="710.48" cy="122.40" rx="2.3" ry="3.9"/>
<ellipse cx="712.54" cy="129.70" rx="2.3" ry="3.9"/>
<ellipse cx="714.60" cy="137.70" rx="2.3" ry="3.9"/>
<ellipse cx="716.66" cy="141.50" rx="2.3" ry="3.9"/>
<ellipse cx="718.73" cy="149.20" rx="2.3" ry="3.9"/>
<ellipse cx="720.79" cy="157.20" rx="2.3" ry="3.9"/>
<ellipse cx="722.85" cy="163.40" rx="2.3" ry="3.9"/>
<ellipse cx="724.91" cy="168.00" rx="2.3" ry="3.9"/>
<ellipse cx="726.98" cy="172.50" rx="2.3" ry="3.9"/>
<ellipse cx="729.04" cy="177.50" rx="2.3" ry="3.9"/>
<ellipse cx="731.10" cy="181.00" rx="2.3" ry="3.9"/>
<ellipse cx="733.16" cy="183.80" rx="2.3" ry="3.9"/>
<ellipse cx="735.23" cy="187.00" rx="2.3" ry="3.9"/>
<ellipse cx="737.29" cy="189.50" rx="2.3" ry="3.9"/>
<ellipse cx="739.35" cy="192.00" rx="2.3" ry="3.9"/>
<ellipse cx="741.41" cy="194.10" rx="2.3" ry="3.9"/>
<ellipse cx="743.48" cy="195.70" rx="2.3" ry="3.9"/>
<ellipse cx="745.54" cy="197.00" rx="2.3" ry="3.9"/>
<ellipse cx="747.60" cy="198.10" rx="2.3" ry="3.9"/>
<ellipse cx="749.66" cy="199.30" rx="2.3" ry="3.9"/>
<ellipse cx="751.73" cy="200.00" rx="2.3" ry="3.9"/>
<ellipse cx="753.79" cy="200.60" rx="2.3" ry="3.9"/>
<ellipse cx="755.85" cy="201.10" rx="2.3" ry="3.9"/>
<ellipse cx="757.91" cy="201.70" rx="2.3" ry="3.9"/>
<ellipse cx="759.98" cy="202.00" rx="2.3" ry="3.9"/>
<ellipse cx="762.04" cy="202.30" rx="2.3" ry="3.9"/>
<ellipse cx="764.10" cy="202.50" rx="2.3" ry="3.9"/>
<ellipse cx="766.16" cy="202.70" rx="2.3" ry="3.9"/>
<ellipse cx="768.23" cy="202.90" rx="2.3" ry="3.9"/>
<ellipse cx="770.29" cy="203.00" rx="2.3" ry="3.9"/>
<ellipse cx="772.35" cy="203.10" rx="2.3" ry="3.9"/>
<ellipse cx="774.41" cy="203.20" rx="2.3" ry="3.9"/>
<ellipse cx="776.48" cy="203.30" rx="2.3" ry="3.9"/>
<ellipse cx="778.54" cy="203.30" rx="2.3" ry="3.9"/>
<ellipse cx="784.73" cy="203.30" rx="2.3" ry="3.9"/>
<ellipse cx="786.79" cy="203.30" rx="2.3" ry="3.9"/>
</g>
<g fill="#ff0000">
<ellipse cx="625.91" cy="191.70" rx="2.3" ry="3.9"/>
<ellipse cx="627.98" cy="184.30" rx="2.3" ry="3.9"/>
<ellipse cx="630.04" cy="176.30" rx="2.3" ry="3.9"/>
<ellipse cx="632.10" cy="170.80" rx="2.3" ry="3.9"/>
<ellipse cx="634.16" cy="167.70" rx="2.3" ry="3.9"/>
<ellipse cx="636.23" cy="162.80" rx="2.3" ry="3.9"/>
<ellipse cx="638.29" cy="156.00" rx="2.3" ry="3.9"/>
<ellipse cx="640.35" cy="154.80" rx="2.3" ry="3.9"/>
<ellipse cx="642.41" cy="152.30" rx="2.3" ry="3.9"/>
<ellipse cx="644.48" cy="150.00" rx="2.3" ry="3.9"/>
<ellipse cx="646.54" cy="148.00" rx="2.3" ry="3.9"/>
<ellipse cx="648.60" cy="146.50" rx="2.3" ry="3.9"/>
<ellipse cx="650.66" cy="145.00" rx="2.3" ry="3.9"/>
<ellipse cx="652.73" cy="143.50" rx="2.3" ry="3.9"/>
<ellipse cx="654.79" cy="136.50" rx="2.3" ry="3.9"/>
<ellipse cx="656.85" cy="132.50" rx="2.3" ry="3.9"/>
<ellipse cx="658.91" cy="130.40" rx="2.3" ry="3.9"/>
<ellipse cx="660.98" cy="121.10" rx="2.3" ry="3.9"/>
<ellipse cx="663.04" cy="115.00" rx="2.3" ry="3.9"/>
<ellipse cx="665.10" cy="102.70" rx="2.3" ry="3.9"/>
<ellipse cx="667.16" cy="93.50" rx="2.3" ry="3.9"/>
<ellipse cx="669.23" cy="82.50" rx="2.3" ry="3.9"/>
<ellipse cx="671.29" cy="73.50" rx="2.3" ry="3.9"/>
<ellipse cx="673.35" cy="64.80" rx="2.3" ry="3.9"/>
<ellipse cx="675.41" cy="56.20" rx="2.3" ry="3.9"/>
<ellipse cx="677.48" cy="43.30" rx="2.3" ry="3.9"/>
<ellipse cx="679.54" cy="47.00" rx="2.3" ry="3.9"/>
<ellipse cx="681.60" cy="39.00" rx="2.3" ry="3.9"/>
<ellipse cx="683.66" cy="37.10" rx="2.3" ry="3.9"/>
<ellipse cx="685.73" cy="41.40" rx="2.3" ry="3.9"/>
<ellipse cx="687.79" cy="42.70" rx="2.3" ry="3.9"/>
<ellipse cx="689.85" cy="43.90" rx="2.3" ry="3.9"/>
<ellipse cx="691.91" cy="48.20" rx="2.3" ry="3.9"/>
<ellipse cx="693.98" cy="54.40" rx="2.3" ry="3.9"/>
<ellipse cx="696.04" cy="64.20" rx="2.3" ry="3.9"/>
<ellipse cx="698.10" cy="69.70" rx="2.3" ry="3.9"/>
<ellipse cx="700.16" cy="77.90" rx="2.3" ry="3.9"/>
<ellipse cx="702.23" cy="90.40" rx="2.3" ry="3.9"/>
<ellipse cx="704.29" cy="101.40" rx="2.3" ry="3.9"/>
<ellipse cx="706.35" cy="107.60" rx="2.3" ry="3.9"/>
<ellipse cx="708.41" cy="113.10" rx="2.3" ry="3.9"/>
<ellipse cx="710.48" cy="122.40" rx="2.3" ry="3.9"/>
<ellipse cx="712.54" cy="129.70" rx="2.3" ry="3.9"/>
<ellipse cx="714.60" cy="137.70" rx="2.3" ry="3.9"/>
<ellipse cx="716.66" cy="141.50" rx="2.3" ry="3.9"/>
<ellipse cx="718.73" cy="149.20" rx="2.3" ry="3.9"/>
<ellipse cx="720.79" cy="157.20" rx="2.3" ry="3.9"/>
<ellipse cx="722.85" cy="163.40" rx="2.3" ry="3.9"/>
<ellipse cx="724.91" cy="168.00" rx="2.3" ry="3.9"/>
<ellipse cx="726.98" cy="172.50" rx="2.3" ry="3.9"/>
<ellipse cx="729.04" cy="177.50" rx="2.3" ry="3.9"/>
<ellipse cx="731.10" cy="181.00" rx="2.3" ry="3.9"/>
<ellipse cx="733.16" cy="183.80" rx="2.3" ry="3.9"/>
<ellipse cx="735.23" cy="187.00" rx="2.3" ry="3.9"/>
<ellipse cx="737.29" cy="189.50" rx="2.3" ry="3.9"/>
<ellipse cx="739.35" cy="192.00" rx="2.3" ry="3.9"/>
<ellipse cx="741.41" cy="194.10" rx="2.3" ry="3.9"/>
<ellipse cx="743.48" cy="195.70" rx="2.3" ry="3.9"/>
<ellipse cx="745.54" cy="197.00" rx="2.3" ry="3.9"/>
<ellipse cx="747.60" cy="198.10" rx="2.3" ry="3.9"/>
<ellipse cx="749.66" cy="199.30" rx="2.3" ry="3.9"/>
<ellipse cx="751.73" cy="200.00" rx="2.3" ry="3.9"/>
<ellipse cx="753.79" cy="200.60" rx="2.3" ry="3.9"/>
<ellipse cx="755.85" cy="201.10" rx="2.3" ry="3.9"/>
<ellipse cx="757.91" cy="201.70" rx="2.3" ry="3.9"/>
<ellipse cx="759.98" cy="202.00" rx="2.3" ry="3.9"/>
<ellipse cx="762.04" cy="202.30" rx="2.3" ry="3.9"/>
<ellipse cx="764.10" cy="202.50" rx="2.3" ry="3.9"/>
<ellipse cx="766.16" cy="202.70" rx="2.3" ry="3.9"/>
<ellipse cx="768.23" cy="202.90" rx="2.3" ry="3.9"/>
<ellipse cx="770.29" cy="203.00" rx="2.3" ry="3.9"/>
<ellipse cx="772.35" cy="203.10" rx="2.3" ry="3.9"/>
<ellipse cx="774.41" cy="203.20" rx="2.3" ry="3.9"/>
<ellipse cx="776.48" cy="203.30" rx="2.3" ry="3.9"/>
<ellipse cx="778.54" cy="203.30" rx="2.3" ry="3.9"/>
<ellipse cx="784.73" cy="203.30" rx="2.3" ry="3.9"/>
<ellipse cx="786.79" cy="203.30" rx="2.3" ry="3.9"/>
</g>
<g fill="#0000ff">
<ellipse cx="625.91" cy="139.00" rx="2.3" ry="3.9"/>
<ellipse cx="627.98" cy="129.10" rx="2.3" ry="3.9"/>
<ellipse cx="630.04" cy="124.80" rx="2.3" ry="3.9"/>
<ellipse cx="632.10" cy="119.90" rx="2.3" ry="3.9"/>
<ellipse cx="634.16" cy="116.80" rx="2.3" ry="3.9"/>
<ellipse cx="636.23" cy="121.70" rx="2.3" ry="3.9"/>
<ellipse cx="638.29" cy="127.90" rx="2.3" ry="3.9"/>
<ellipse cx="640.35" cy="130.40" rx="2.3" ry="3.9"/>
<ellipse cx="642.41" cy="139.50" rx="2.3" ry="3.9"/>
<ellipse cx="644.48" cy="146.20" rx="2.3" ry="3.9"/>
<ellipse cx="646.54" cy="150.50" rx="2.3" ry="3.9"/>
<ellipse cx="648.60" cy="157.20" rx="2.3" ry="3.9"/>
<ellipse cx="650.66" cy="160.30" rx="2.3" ry="3.9"/>
<ellipse cx="652.73" cy="164.00" rx="2.3" ry="3.9"/>
<ellipse cx="654.79" cy="167.70" rx="2.3" ry="3.9"/>
<ellipse cx="656.85" cy="164.00" rx="2.3" ry="3.9"/>
<ellipse cx="658.91" cy="163.40" rx="2.3" ry="3.9"/>
<ellipse cx="660.98" cy="165.80" rx="2.3" ry="3.9"/>
<ellipse cx="663.04" cy="167.70" rx="2.3" ry="3.9"/>
<ellipse cx="665.10" cy="169.50" rx="2.3" ry="3.9"/>
<ellipse cx="667.16" cy="172.60" rx="2.3" ry="3.9"/>
<ellipse cx="669.23" cy="173.80" rx="2.3" ry="3.9"/>
<ellipse cx="671.29" cy="177.50" rx="2.3" ry="3.9"/>
<ellipse cx="673.35" cy="180.60" rx="2.3" ry="3.9"/>
<ellipse cx="675.41" cy="184.30" rx="2.3" ry="3.9"/>
<ellipse cx="677.48" cy="187.40" rx="2.3" ry="3.9"/>
<ellipse cx="679.54" cy="189.80" rx="2.3" ry="3.9"/>
<ellipse cx="681.60" cy="191.70" rx="2.3" ry="3.9"/>
<ellipse cx="683.66" cy="196.00" rx="2.3" ry="3.9"/>
<ellipse cx="685.73" cy="197.80" rx="2.3" ry="3.9"/>
<ellipse cx="687.79" cy="199.70" rx="2.3" ry="3.9"/>
<ellipse cx="689.85" cy="200.90" rx="2.3" ry="3.9"/>
<ellipse cx="691.91" cy="201.60" rx="2.3" ry="3.9"/>
<ellipse cx="693.98" cy="202.10" rx="2.3" ry="3.9"/>
<ellipse cx="696.04" cy="202.50" rx="2.3" ry="3.9"/>
<ellipse cx="698.10" cy="203.00" rx="2.3" ry="3.9"/>
<ellipse cx="700.16" cy="203.30" rx="2.3" ry="3.9"/>
<ellipse cx="702.23" cy="203.50" rx="2.3" ry="3.9"/>
<ellipse cx="704.29" cy="203.60" rx="2.3" ry="3.9"/>
<ellipse cx="708.41" cy="203.70" rx="2.3" ry="3.9"/>
</g>
<rect x="625.00" y="26.40" width="166.00" height="1.2" fill="#444"/>
<rect x="625.00" y="204.00" width="166.00" height="1.0" fill="#333"/>
<rect x="625.00" y="27.00" width="1" height="177.50" fill="#858585"/>
<rect x="790.00" y="27.00" width="1" height="177.50" fill="#858585"/>
<text transform="translate(627.10 238.00) scale(1 1.88)" font-family="Liberation Serif, serif" font-size="18.8" text-anchor="middle" fill="#000">0</text>
<text transform="translate(669.80 238.00) scale(1 1.88)" font-family="Liberation Serif, serif" font-size="18.8" text-anchor="middle" fill="#000">10</text>
<text transform="translate(710.30 238.00) scale(1 1.88)" font-family="Liberation Serif, serif" font-size="18.8" text-anchor="middle" fill="#000">20</text>
<text transform="translate(751.30 238.00) scale(1 1.88)" font-family="Liberation Serif, serif" font-size="18.8" text-anchor="middle" fill="#000">30</text>
<text transform="translate(792.70 238.00) scale(1 1.88)" font-family="Liberation Serif, serif" font-size="18.8" text-anchor="middle" fill="#000">40</text>
<text transform="translate(748.40 73.60) scale(0.6737 1)" font-family="Liberation Sans, sans-serif" font-size="37.7" fill="#000" stroke="#000" stroke-width="0.3" vector-effect="non-scaling-stroke">(d)</text>
<rect x="93.25" y="273.20" width="1" height="2.6" fill="#9a9a9a"/>
<rect x="93.25" y="448.15" width="1" height="2.6" fill="#9a9a9a"/>
<rect x="134.50" y="273.20" width="1" height="2.6" fill="#9a9a9a"/>
<rect x="134.50" y="448.15" width="1" height="2.6" fill="#9a9a9a"/>
<rect x="175.75" y="273.20" width="1" height="2.6" fill="#9a9a9a"/>
<rect x="175.75" y="448.15" width="1" height="2.6" fill="#9a9a9a"/>
<path d="M63.53 450.30 L65.60 447.20 L67.66 443.35 L69.72 435.15 L71.78 407.80 L73.85 365.30 L75.91 313.40 L77.97 280.80 L80.03 272.60 L82.10 305.20 L84.16 354.70 L86.22 398.40 L88.28 434.30 L90.35 447.20 L92.41 450.50" fill="none" stroke="#00ff00" stroke-width="0.5" stroke-opacity="0.38" stroke-linejoin="round"/>
<path d="M67.66 450.50 L69.72 450.30" fill="none" stroke="#ff0000" stroke-width="0.5" stroke-opacity="0.5" stroke-linejoin="round"/>
<path d="M63.53 450.30 L65.60 447.20 L67.66 443.50 L69.72 435.50 L71.78 407.80 L73.85 365.30 L75.91 313.40 L77.97 280.80 L80.03 272.60 L82.10 305.20 L84.16 354.70 L86.22 398.40 L88.28 434.30 L90.35 447.20 L92.41 450.50" fill="none" stroke="#0000ff" stroke-width="0.5" stroke-opacity="0.5" stroke-linejoin="round"/>
<g fill="#00ff00">
<ellipse cx="63.53" cy="450.30" rx="2.3" ry="3.9"/>
<ellipse cx="65.60" cy="447.20" rx="2.3" ry="3.9"/>
<ellipse cx="67.66" cy="443.35" rx="2.3" ry="3.9"/>
<ellipse cx="69.72" cy="435.15" rx="2.3" ry="3.9"/>
<ellipse cx="71.78" cy="407.80" rx="2.3" ry="3.9"/>
<ellipse cx="73.85" cy="365.30" rx="2.3" ry="3.9"/>
<ellipse cx="75.91" cy="313.40" rx="2.3" ry="3.9"/>
<ellipse cx="77.97" cy="280.80" rx="2.3" ry="3.9"/>
<ellipse cx="80.03" cy="272.60" rx="2.3" ry="3.9"/>
<ellipse cx="82.10" cy="305.20" rx="2.3" ry="3.9"/>
<ellipse cx="84.16" cy="354.70" rx="2.3" ry="3.9"/>
<ellipse cx="86.22" cy="398.40" rx="2.3" ry="3.9"/>
<ellipse cx="88.28" cy="434.30" rx="2.3" ry="3.9"/>
<ellipse cx="90.35" cy="447.20" rx="2.3" ry="3.9"/>
<ellipse cx="92.41" cy="450.50" rx="2.3" ry="3.9"/>
</g>
<g fill="#ff0000">
<ellipse cx="67.66" cy="450.50" rx="2.3" ry="3.9"/>
<ellipse cx="69.72" cy="450.30" rx="2.3" ry="3.9"/>
</g>
<g fill="#0000ff">
<ellipse cx="63.53" cy="450.30" rx="2.3" ry="3.9"/>
<ellipse cx="65.60" cy="447.20" rx="2.3" ry="3.9"/>
<ellipse cx="67.66" cy="443.50" rx="2.3" ry="3.9"/>
<ellipse cx="69.72" cy="435.50" rx="2.3" ry="3.9"/>
<ellipse cx="71.78" cy="407.80" rx="2.3" ry="3.9"/>
<ellipse cx="73.85" cy="365.30" rx="2.3" ry="3.9"/>
<ellipse cx="75.91" cy="313.40" rx="2.3" ry="3.9"/>
<ellipse cx="77.97" cy="280.80" rx="2.3" ry="3.9"/>
<ellipse cx="80.03" cy="272.60" rx="2.3" ry="3.9"/>
<ellipse cx="82.10" cy="305.20" rx="2.3" ry="3.9"/>
<ellipse cx="84.16" cy="354.70" rx="2.3" ry="3.9"/>
<ellipse cx="86.22" cy="398.40" rx="2.3" ry="3.9"/>
<ellipse cx="88.28" cy="434.30" rx="2.3" ry="3.9"/>
<ellipse cx="90.35" cy="447.20" rx="2.3" ry="3.9"/>
<ellipse cx="92.41" cy="450.50" rx="2.3" ry="3.9"/>
</g>
<rect x="52.00" y="272.60" width="166.00" height="1.2" fill="#444"/>
<rect x="52.00" y="450.25" width="166.00" height="1.2" fill="#333"/>
<rect x="52.00" y="273.20" width="1" height="177.55" fill="#858585"/>
<rect x="217.00" y="273.20" width="1" height="177.55" fill="#858585"/>
<text transform="translate(54.10 484.25) scale(1 1.88)" font-family="Liberation Serif, serif" font-size="18.8" text-anchor="middle" fill="#000">0</text>
<text transform="translate(96.80 484.25) scale(1 1.88)" font-family="Liberation Serif, serif" font-size="18.8" text-anchor="middle" fill="#000">10</text>
<text transform="translate(137.30 484.25) scale(1 1.88)" font-family="Liberation Serif, serif" font-size="18.8" text-anchor="middle" fill="#000">20</text>
<text transform="translate(178.30 484.25) scale(1 1.88)" font-family="Liberation Serif, serif" font-size="18.8" text-anchor="middle" fill="#000">30</text>
<text transform="translate(219.70 484.25) scale(1 1.88)" font-family="Liberation Serif, serif" font-size="18.8" text-anchor="middle" fill="#000">40</text>
<text transform="translate(175.40 319.80) scale(0.6737 1)" font-family="Liberation Sans, sans-serif" font-size="37.7" fill="#000" stroke="#000" stroke-width="0.3" vector-effect="non-scaling-stroke">(e)</text>
<rect x="284.25" y="273.20" width="1" height="2.6" fill="#9a9a9a"/>
<rect x="284.25" y="448.15" width="1" height="2.6" fill="#9a9a9a"/>
<rect x="325.50" y="273.20" width="1" height="2.6" fill="#9a9a9a"/>
<rect x="325.50" y="448.15" width="1" height="2.6" fill="#9a9a9a"/>
<rect x="366.75" y="273.20" width="1" height="2.6" fill="#9a9a9a"/>
<rect x="366.75" y="448.15" width="1" height="2.6" fill="#9a9a9a"/>
<path d="M246.28 450.65 L248.35 447.80 L250.41 439.65 L252.47 416.85 L254.53 383.15 L256.60 336.95 L258.66 295.75 L260.72 271.95 L262.78 285.65 L264.85 323.00 L266.91 372.90 L268.97 414.60 L271.03 436.70 L273.10 447.80 L275.16 450.65" fill="none" stroke="#00ff00" stroke-width="0.5" stroke-opacity="0.38" stroke-linejoin="round"/>
<path d="M250.41 449.90 L252.47 449.80 L254.53 449.80 L256.60 449.80 L258.66 449.80 L260.72 449.80 L262.78 449.90" fill="none" stroke="#ff0000" stroke-width="0.5" stroke-opacity="0.5" stroke-linejoin="round"/>
<path d="M246.28 450.90 L248.35 447.80 L250.41 440.40 L252.47 417.70 L254.53 384.00 L256.60 337.80 L258.66 296.60 L260.72 272.80 L262.78 286.40 L264.85 323.00 L266.91 372.90 L268.97 414.60 L271.03 436.70 L273.10 447.80 L275.16 450.90" fill="none" stroke="#0000ff" stroke-width="0.5" stroke-opacity="0.5" stroke-linejoin="round"/>
<g fill="#00ff00">
<ellipse cx="246.28" cy="450.65" rx="2.3" ry="3.9"/>
<ellipse cx="248.35" cy="447.80" rx="2.3" ry="3.9"/>
<ellipse cx="250.41" cy="439.65" rx="2.3" ry="3.9"/>
<ellipse cx="252.47" cy="416.85" rx="2.3" ry="3.9"/>
<ellipse cx="254.53" cy="383.15" rx="2.3" ry="3.9"/>
<ellipse cx="256.60" cy="336.95" rx="2.3" ry="3.9"/>
<ellipse cx="258.66" cy="295.75" rx="2.3" ry="3.9"/>
<ellipse cx="260.72" cy="271.95" rx="2.3" ry="3.9"/>
<ellipse cx="262.78" cy="285.65" rx="2.3" ry="3.9"/>
<ellipse cx="264.85" cy="323.00" rx="2.3" ry="3.9"/>
<ellipse cx="266.91" cy="372.90" rx="2.3" ry="3.9"/>
<ellipse cx="268.97" cy="414.60" rx="2.3" ry="3.9"/>
<ellipse cx="271.03" cy="436.70" rx="2.3" ry="3.9"/>
<ellipse cx="273.10" cy="447.80" rx="2.3" ry="3.9"/>
<ellipse cx="275.16" cy="450.65" rx="2.3" ry="3.9"/>
</g>
<g fill="#ff0000">
<ellipse cx="250.41" cy="449.90" rx="2.3" ry="3.9"/>
<ellipse cx="252.47" cy="449.80" rx="2.3" ry="3.9"/>
<ellipse cx="254.53" cy="449.80" rx="2.3" ry="3.9"/>
<ellipse cx="256.60" cy="449.80" rx="2.3" ry="3.9"/>
<ellipse cx="258.66" cy="449.80" rx="2.3" ry="3.9"/>
<ellipse cx="260.72" cy="449.80" rx="2.3" ry="3.9"/>
<ellipse cx="262.78" cy="449.90" rx="2.3" ry="3.9"/>
</g>
<g fill="#0000ff">
<ellipse cx="246.28" cy="450.90" rx="2.3" ry="3.9"/>
<ellipse cx="248.35" cy="447.80" rx="2.3" ry="3.9"/>
<ellipse cx="250.41" cy="440.40" rx="2.3" ry="3.9"/>
<ellipse cx="252.47" cy="417.70" rx="2.3" ry="3.9"/>
<ellipse cx="254.53" cy="384.00" rx="2.3" ry="3.9"/>
<ellipse cx="256.60" cy="337.80" rx="2.3" ry="3.9"/>
<ellipse cx="258.66" cy="296.60" rx="2.3" ry="3.9"/>
<ellipse cx="260.72" cy="272.80" rx="2.3" ry="3.9"/>
<ellipse cx="262.78" cy="286.40" rx="2.3" ry="3.9"/>
<ellipse cx="264.85" cy="323.00" rx="2.3" ry="3.9"/>
<ellipse cx="266.91" cy="372.90" rx="2.3" ry="3.9"/>
<ellipse cx="268.97" cy="414.60" rx="2.3" ry="3.9"/>
<ellipse cx="271.03" cy="436.70" rx="2.3" ry="3.9"/>
<ellipse cx="273.10" cy="447.80" rx="2.3" ry="3.9"/>
<ellipse cx="275.16" cy="450.90" rx="2.3" ry="3.9"/>
</g>
<rect x="243.00" y="272.60" width="166.00" height="1.2" fill="#444"/>
<rect x="243.00" y="450.25" width="166.00" height="1.2" fill="#333"/>
<rect x="243.00" y="273.20" width="1" height="177.55" fill="#858585"/>
<rect x="408.00" y="273.20" width="1" height="177.55" fill="#858585"/>
<text transform="translate(245.10 484.25) scale(1 1.88)" font-family="Liberation Serif, serif" font-size="18.8" text-anchor="middle" fill="#000">0</text>
<text transform="translate(287.80 484.25) scale(1 1.88)" font-family="Liberation Serif, serif" font-size="18.8" text-anchor="middle" fill="#000">10</text>
<text transform="translate(328.30 484.25) scale(1 1.88)" font-family="Liberation Serif, serif" font-size="18.8" text-anchor="middle" fill="#000">20</text>
<text transform="translate(369.30 484.25) scale(1 1.88)" font-family="Liberation Serif, serif" font-size="18.8" text-anchor="middle" fill="#000">30</text>
<text transform="translate(410.70 484.25) scale(1 1.88)" font-family="Liberation Serif, serif" font-size="18.8" text-anchor="middle" fill="#000">40</text>
<text transform="translate(366.40 319.80) scale(0.6737 1)" font-family="Liberation Sans, sans-serif" font-size="37.7" fill="#000" stroke="#000" stroke-width="0.3" vector-effect="non-scaling-stroke">(f)</text>
<rect x="475.25" y="273.20" width="1" height="2.6" fill="#9a9a9a"/>
<rect x="475.25" y="448.15" width="1" height="2.6" fill="#9a9a9a"/>
<rect x="516.50" y="273.20" width="1" height="2.6" fill="#9a9a9a"/>
<rect x="516.50" y="448.15" width="1" height="2.6" fill="#9a9a9a"/>
<rect x="557.75" y="273.20" width="1" height="2.6" fill="#9a9a9a"/>
<rect x="557.75" y="448.15" width="1" height="2.6" fill="#9a9a9a"/>
<path d="M434.80 450.65 L435.22 357.90 L437.28 326.20 L439.35 288.80 L441.41 272.85 L443.47 278.40 L445.53 301.50 L447.60 339.95 L449.66 382.95 L451.72 417.10 L453.78 438.20 L455.85 447.60 L457.91 450.65" fill="none" stroke="#00ff00" stroke-width="0.5" stroke-opacity="0.38" stroke-linejoin="round"/>
<path d="M441.41 450.30 L447.60 450.30 L449.66 450.30" fill="none" stroke="#ff0000" stroke-width="0.5" stroke-opacity="0.5" stroke-linejoin="round"/>
<path d="M434.80 450.65 L435.22 357.90 L437.28 326.20 L439.35 288.80 L441.41 273.20 L443.47 278.40 L445.53 301.50 L447.60 340.30 L449.66 383.30 L451.72 417.10 L453.78 438.20 L455.85 447.60 L457.91 450.90" fill="none" stroke="#0000ff" stroke-width="0.5" stroke-opacity="0.5" stroke-linejoin="round"/>
<g fill="#00ff00">
<ellipse cx="435.22" cy="357.90" rx="2.3" ry="3.9"/>
<ellipse cx="437.28" cy="326.20" rx="2.3" ry="3.9"/>
<ellipse cx="439.35" cy="288.80" rx="2.3" ry="3.9"/>
<ellipse cx="441.41" cy="272.85" rx="2.3" ry="3.9"/>
<ellipse cx="443.47" cy="278.40" rx="2.3" ry="3.9"/>
<ellipse cx="445.53" cy="301.50" rx="2.3" ry="3.9"/>
<ellipse cx="447.60" cy="339.95" rx="2.3" ry="3.9"/>
<ellipse cx="449.66" cy="382.95" rx="2.3" ry="3.9"/>
<ellipse cx="451.72" cy="417.10" rx="2.3" ry="3.9"/>
<ellipse cx="453.78" cy="438.20" rx="2.3" ry="3.9"/>
<ellipse cx="455.85" cy="447.60" rx="2.3" ry="3.9"/>
<ellipse cx="457.91" cy="450.65" rx="2.3" ry="3.9"/>
</g>
<g fill="#ff0000">
<ellipse cx="441.41" cy="450.30" rx="2.3" ry="3.9"/>
<ellipse cx="447.60" cy="450.30" rx="2.3" ry="3.9"/>
<ellipse cx="449.66" cy="450.30" rx="2.3" ry="3.9"/>
<ellipse cx="442.40" cy="450.30" rx="2.3" ry="3.9"/>
</g>
<g fill="#0000ff">
<ellipse cx="435.22" cy="357.90" rx="2.3" ry="3.9"/>
<ellipse cx="437.28" cy="326.20" rx="2.3" ry="3.9"/>
<ellipse cx="439.35" cy="288.80" rx="2.3" ry="3.9"/>
<ellipse cx="441.41" cy="273.20" rx="2.3" ry="3.9"/>
<ellipse cx="443.47" cy="278.40" rx="2.3" ry="3.9"/>
<ellipse cx="445.53" cy="301.50" rx="2.3" ry="3.9"/>
<ellipse cx="447.60" cy="340.30" rx="2.3" ry="3.9"/>
<ellipse cx="449.66" cy="383.30" rx="2.3" ry="3.9"/>
<ellipse cx="451.72" cy="417.10" rx="2.3" ry="3.9"/>
<ellipse cx="453.78" cy="438.20" rx="2.3" ry="3.9"/>
<ellipse cx="455.85" cy="447.60" rx="2.3" ry="3.9"/>
<ellipse cx="457.91" cy="450.90" rx="2.3" ry="3.9"/>
</g>
<rect x="434.00" y="272.60" width="166.00" height="1.2" fill="#444"/>
<rect x="434.00" y="450.25" width="166.00" height="1.2" fill="#333"/>
<rect x="434.00" y="273.20" width="1" height="177.55" fill="#858585"/>
<rect x="599.00" y="273.20" width="1" height="177.55" fill="#858585"/>
<text transform="translate(436.10 484.25) scale(1 1.88)" font-family="Liberation Serif, serif" font-size="18.8" text-anchor="middle" fill="#000">0</text>
<text transform="translate(478.80 484.25) scale(1 1.88)" font-family="Liberation Serif, serif" font-size="18.8" text-anchor="middle" fill="#000">10</text>
<text transform="translate(519.30 484.25) scale(1 1.88)" font-family="Liberation Serif, serif" font-size="18.8" text-anchor="middle" fill="#000">20</text>
<text transform="translate(560.30 484.25) scale(1 1.88)" font-family="Liberation Serif, serif" font-size="18.8" text-anchor="middle" fill="#000">30</text>
<text transform="translate(601.70 484.25) scale(1 1.88)" font-family="Liberation Serif, serif" font-size="18.8" text-anchor="middle" fill="#000">40</text>
<text transform="translate(557.40 319.80) scale(0.6737 1)" font-family="Liberation Sans, sans-serif" font-size="37.7" fill="#000" stroke="#000" stroke-width="0.3" vector-effect="non-scaling-stroke">(g)</text>
<rect x="666.25" y="273.20" width="1" height="2.6" fill="#9a9a9a"/>
<rect x="666.25" y="448.15" width="1" height="2.6" fill="#9a9a9a"/>
<rect x="707.50" y="273.20" width="1" height="2.6" fill="#9a9a9a"/>
<rect x="707.50" y="448.15" width="1" height="2.6" fill="#9a9a9a"/>
<rect x="748.75" y="273.20" width="1" height="2.6" fill="#9a9a9a"/>
<rect x="748.75" y="448.15" width="1" height="2.6" fill="#9a9a9a"/>
<path d="M625.80 450.65 L625.91 325.45 L627.98 316.05 L630.04 303.25 L632.10 296.15 L634.16 288.45 L636.23 282.95 L638.29 278.15 L640.35 273.05 L642.41 271.95 L644.48 276.75 L646.54 272.75 L648.60 276.15 L650.66 280.35 L652.73 283.95 L654.79 291.75 L656.85 304.35 L658.91 315.55 L660.98 330.45 L663.04 343.75 L665.10 357.95 L667.16 373.15 L669.23 387.85 L671.29 399.65 L673.35 409.95 L675.41 421.25 L677.48 430.25 L679.54 436.95 L681.60 442.85 L683.66 446.00 L685.73 448.40 L687.79 449.90 L689.85 450.50" fill="none" stroke="#00ff00" stroke-width="0.5" stroke-opacity="0.38" stroke-linejoin="round"/>
<path d="M625.91 442.30 L627.98 440.50 L630.04 439.20 L632.10 438.30 L634.16 437.40 L636.23 436.80 L638.29 436.30 L640.35 436.10 L642.41 436.20 L644.48 436.70 L646.54 437.00 L648.60 437.40 L650.66 437.90 L652.73 438.40 L654.79 438.80 L656.85 439.70 L658.91 441.00 L660.98 442.00 L663.04 443.00 L665.10 443.70 L667.16 444.80 L669.23 446.00 L671.29 446.80 L673.35 447.80 L675.41 448.70 L677.48 449.70 L679.54 450.20 L681.60 450.60 L683.66 450.80 L685.73 450.80 L687.79 450.80 L689.85 450.80" fill="none" stroke="#ff0000" stroke-width="0.5" stroke-opacity="0.5" stroke-linejoin="round"/>
<path d="M625.80 450.65 L625.91 333.80 L627.98 326.20 L630.04 314.70 L632.10 308.50 L634.16 301.70 L636.23 296.80 L638.29 292.50 L640.35 287.60 L642.41 286.40 L644.48 290.70 L646.54 286.40 L648.60 289.40 L650.66 293.10 L652.73 296.20 L654.79 303.60 L656.85 315.30 L658.91 325.20 L660.98 339.10 L663.04 351.40 L665.10 364.90 L667.16 379.00 L669.23 392.50 L671.29 403.50 L673.35 412.80 L675.41 423.20 L677.48 431.20 L679.54 437.40 L681.60 442.90 L683.66 446.00 L685.73 448.40 L687.79 449.90 L689.85 450.50" fill="none" stroke="#0000ff" stroke-width="0.5" stroke-opacity="0.5" stroke-linejoin="round"/>
<g fill="#00ff00">
<ellipse cx="625.91" cy="325.45" rx="2.3" ry="3.9"/>
<ellipse cx="627.98" cy="316.05" rx="2.3" ry="3.9"/>
<ellipse cx="630.04" cy="303.25" rx="2.3" ry="3.9"/>
<ellipse cx="632.10" cy="296.15" rx="2.3" ry="3.9"/>
<ellipse cx="634.16" cy="288.45" rx="2.3" ry="3.9"/>
<ellipse cx="636.23" cy="282.95" rx="2.3" ry="3.9"/>
<ellipse cx="638.29" cy="278.15" rx="2.3" ry="3.9"/>
<ellipse cx="640.35" cy="273.05" rx="2.3" ry="3.9"/>
<ellipse cx="642.41" cy="271.95" rx="2.3" ry="3.9"/>
<ellipse cx="644.48" cy="276.75" rx="2.3" ry="3.9"/>
<ellipse cx="646.54" cy="272.75" rx="2.3" ry="3.9"/>
<ellipse cx="648.60" cy="276.15" rx="2.3" ry="3.9"/>
<ellipse cx="650.66" cy="280.35" rx="2.3" ry="3.9"/>
<ellipse cx="652.73" cy="283.95" rx="2.3" ry="3.9"/>
<ellipse cx="654.79" cy="291.75" rx="2.3" ry="3.9"/>
<ellipse cx="656.85" cy="304.35" rx="2.3" ry="3.9"/>
<ellipse cx="658.91" cy="315.55" rx="2.3" ry="3.9"/>
<ellipse cx="660.98" cy="330.45" rx="2.3" ry="3.9"/>
<ellipse cx="663.04" cy="343.75" rx="2.3" ry="3.9"/>
<ellipse cx="665.10" cy="357.95" rx="2.3" ry="3.9"/>
<ellipse cx="667.16" cy="373.15" rx="2.3" ry="3.9"/>
<ellipse cx="669.23" cy="387.85" rx="2.3" ry="3.9"/>
<ellipse cx="671.29" cy="399.65" rx="2.3" ry="3.9"/>
<ellipse cx="673.35" cy="409.95" rx="2.3" ry="3.9"/>
<ellipse cx="675.41" cy="421.25" rx="2.3" ry="3.9"/>
<ellipse cx="677.48" cy="430.25" rx="2.3" ry="3.9"/>
<ellipse cx="679.54" cy="436.95" rx="2.3" ry="3.9"/>
<ellipse cx="681.60" cy="442.85" rx="2.3" ry="3.9"/>
<ellipse cx="683.66" cy="446.00" rx="2.3" ry="3.9"/>
<ellipse cx="685.73" cy="448.40" rx="2.3" ry="3.9"/>
<ellipse cx="687.79" cy="449.90" rx="2.3" ry="3.9"/>
<ellipse cx="689.85" cy="450.50" rx="2.3" ry="3.9"/>
</g>
<g fill="#ff0000">
<ellipse cx="625.91" cy="442.30" rx="2.3" ry="3.9"/>
<ellipse cx="627.98" cy="440.50" rx="2.3" ry="3.9"/>
<ellipse cx="630.04" cy="439.20" rx="2.3" ry="3.9"/>
<ellipse cx="632.10" cy="438.30" rx="2.3" ry="3.9"/>
<ellipse cx="634.16" cy="437.40" rx="2.3" ry="3.9"/>
<ellipse cx="636.23" cy="436.80" rx="2.3" ry="3.9"/>
<ellipse cx="638.29" cy="436.30" rx="2.3" ry="3.9"/>
<ellipse cx="640.35" cy="436.10" rx="2.3" ry="3.9"/>
<ellipse cx="642.41" cy="436.20" rx="2.3" ry="3.9"/>
<ellipse cx="644.48" cy="436.70" rx="2.3" ry="3.9"/>
<ellipse cx="646.54" cy="437.00" rx="2.3" ry="3.9"/>
<ellipse cx="648.60" cy="437.40" rx="2.3" ry="3.9"/>
<ellipse cx="650.66" cy="437.90" rx="2.3" ry="3.9"/>
<ellipse cx="652.73" cy="438.40" rx="2.3" ry="3.9"/>
<ellipse cx="654.79" cy="438.80" rx="2.3" ry="3.9"/>
<ellipse cx="656.85" cy="439.70" rx="2.3" ry="3.9"/>
<ellipse cx="658.91" cy="441.00" rx="2.3" ry="3.9"/>
<ellipse cx="660.98" cy="442.00" rx="2.3" ry="3.9"/>
<ellipse cx="663.04" cy="443.00" rx="2.3" ry="3.9"/>
<ellipse cx="665.10" cy="443.70" rx="2.3" ry="3.9"/>
<ellipse cx="667.16" cy="444.80" rx="2.3" ry="3.9"/>
<ellipse cx="669.23" cy="446.00" rx="2.3" ry="3.9"/>
<ellipse cx="671.29" cy="446.80" rx="2.3" ry="3.9"/>
<ellipse cx="673.35" cy="447.80" rx="2.3" ry="3.9"/>
<ellipse cx="675.41" cy="448.70" rx="2.3" ry="3.9"/>
<ellipse cx="677.48" cy="449.70" rx="2.3" ry="3.9"/>
<ellipse cx="679.54" cy="450.20" rx="2.3" ry="3.9"/>
<ellipse cx="681.60" cy="450.60" rx="2.3" ry="3.9"/>
<ellipse cx="683.66" cy="450.80" rx="2.3" ry="3.9"/>
<ellipse cx="685.73" cy="450.80" rx="2.3" ry="3.9"/>
<ellipse cx="687.79" cy="450.80" rx="2.3" ry="3.9"/>
<ellipse cx="689.85" cy="450.80" rx="2.3" ry="3.9"/>
</g>
<g fill="#0000ff">
<ellipse cx="625.91" cy="333.80" rx="2.3" ry="3.9"/>
<ellipse cx="627.98" cy="326.20" rx="2.3" ry="3.9"/>
<ellipse cx="630.04" cy="314.70" rx="2.3" ry="3.9"/>
<ellipse cx="632.10" cy="308.50" rx="2.3" ry="3.9"/>
<ellipse cx="634.16" cy="301.70" rx="2.3" ry="3.9"/>
<ellipse cx="636.23" cy="296.80" rx="2.3" ry="3.9"/>
<ellipse cx="638.29" cy="292.50" rx="2.3" ry="3.9"/>
<ellipse cx="640.35" cy="287.60" rx="2.3" ry="3.9"/>
<ellipse cx="642.41" cy="286.40" rx="2.3" ry="3.9"/>
<ellipse cx="644.48" cy="290.70" rx="2.3" ry="3.9"/>
<ellipse cx="646.54" cy="286.40" rx="2.3" ry="3.9"/>
<ellipse cx="648.60" cy="289.40" rx="2.3" ry="3.9"/>
<ellipse cx="650.66" cy="293.10" rx="2.3" ry="3.9"/>
<ellipse cx="652.73" cy="296.20" rx="2.3" ry="3.9"/>
<ellipse cx="654.79" cy="303.60" rx="2.3" ry="3.9"/>
<ellipse cx="656.85" cy="315.30" rx="2.3" ry="3.9"/>
<ellipse cx="658.91" cy="325.20" rx="2.3" ry="3.9"/>
<ellipse cx="660.98" cy="339.10" rx="2.3" ry="3.9"/>
<ellipse cx="663.04" cy="351.40" rx="2.3" ry="3.9"/>
<ellipse cx="665.10" cy="364.90" rx="2.3" ry="3.9"/>
<ellipse cx="667.16" cy="379.00" rx="2.3" ry="3.9"/>
<ellipse cx="669.23" cy="392.50" rx="2.3" ry="3.9"/>
<ellipse cx="671.29" cy="403.50" rx="2.3" ry="3.9"/>
<ellipse cx="673.35" cy="412.80" rx="2.3" ry="3.9"/>
<ellipse cx="675.41" cy="423.20" rx="2.3" ry="3.9"/>
<ellipse cx="677.48" cy="431.20" rx="2.3" ry="3.9"/>
<ellipse cx="679.54" cy="437.40" rx="2.3" ry="3.9"/>
<ellipse cx="681.60" cy="442.90" rx="2.3" ry="3.9"/>
<ellipse cx="683.66" cy="446.00" rx="2.3" ry="3.9"/>
<ellipse cx="685.73" cy="448.40" rx="2.3" ry="3.9"/>
<ellipse cx="687.79" cy="449.90" rx="2.3" ry="3.9"/>
<ellipse cx="689.85" cy="450.50" rx="2.3" ry="3.9"/>
</g>
<rect x="625.00" y="272.60" width="166.00" height="1.2" fill="#444"/>
<rect x="625.00" y="450.25" width="166.00" height="1.2" fill="#333"/>
<rect x="625.00" y="273.20" width="1" height="177.55" fill="#858585"/>
<rect x="790.00" y="273.20" width="1" height="177.55" fill="#858585"/>
<text transform="translate(627.10 484.25) scale(1 1.88)" font-family="Liberation Serif, serif" font-size="18.8" text-anchor="middle" fill="#000">0</text>
<text transform="translate(669.80 484.25) scale(1 1.88)" font-family="Liberation Serif, serif" font-size="18.8" text-anchor="middle" fill="#000">10</text>
<text transform="translate(710.30 484.25) scale(1 1.88)" font-family="Liberation Serif, serif" font-size="18.8" text-anchor="middle" fill="#000">20</text>
<text transform="translate(751.30 484.25) scale(1 1.88)" font-family="Liberation Serif, serif" font-size="18.8" text-anchor="middle" fill="#000">30</text>
<text transform="translate(792.70 484.25) scale(1 1.88)" font-family="Liberation Serif, serif" font-size="18.8" text-anchor="middle" fill="#000">40</text>
<text transform="translate(748.40 319.80) scale(0.6737 1)" font-family="Liberation Sans, sans-serif" font-size="37.7" fill="#000" stroke="#000" stroke-width="0.3" vector-effect="non-scaling-stroke">(h)</text>
<text transform="translate(325.6 521.0) scale(0.6538 1)" font-family="Liberation Sans, sans-serif" font-size="39.0" fill="#000" stroke="#000" stroke-width="0.3" vector-effect="non-scaling-stroke">Maximum SNR</text>
<text transform="translate(33.7 416.4) rotate(-90) scale(1 0.7101)" font-family="Liberation Sans, sans-serif" font-size="37.6" fill="#000" stroke="#000" stroke-width="0.3" vector-effect="non-scaling-stroke">Probability (a.u.)</text>
</svg>
</body></html>
